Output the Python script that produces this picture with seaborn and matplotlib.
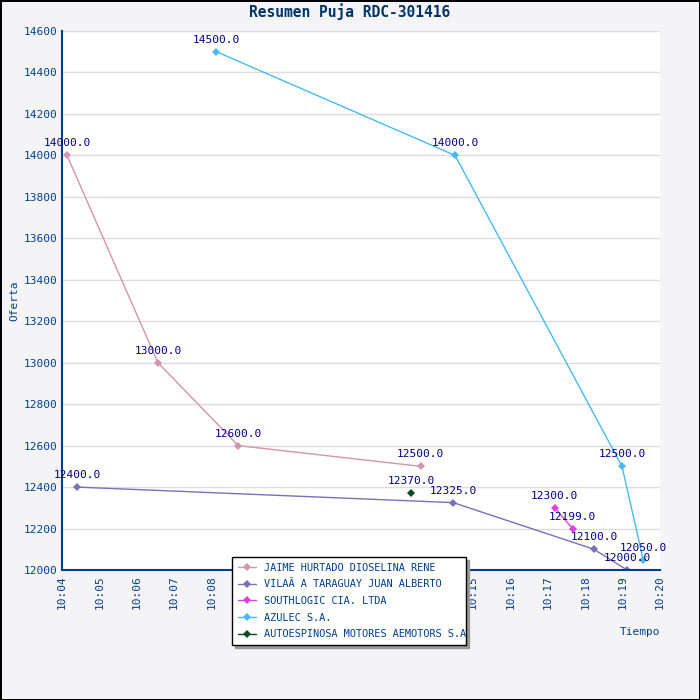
import pandas as pd
import seaborn as sns
import matplotlib.pyplot as plt
import matplotlib.dates as mdates

sns.set_style("white")
plt.rcParams['font.family'] = ['DejaVu Sans Mono', 'DejaVu Sans']

# bids
jaime_t = ["10:04:08", "10:06:34", "10:08:43", "10:13:36"]
jaime_v = [14000.0, 13000.0, 12600.0, 12500.0]
vila_t = ["10:04:24", "10:14:28", "10:18:14", "10:19:07"]
vila_v = [12400.0, 12325.0, 12100.0, 12000.0]
south_t = ["10:17:11", "10:17:40"]
south_v = [12300.0, 12199.0]
azulec_t = ["10:08:08", "10:14:31", "10:18:59", "10:19:33"]
azulec_v = [14500.0, 14000.0, 12500.0, 12050.0]
auto_t = ["10:13:20"]
auto_v = [12370.0]

names = ["JAIME HURTADO DIOSELINA RENE", "VILAÃ A TARAGUAY JUAN ALBERTO",
         "SOUTHLOGIC CIA. LTDA", "AZULEC S.A.", "AUTOESPINOSA MOTORES AEMOTORS S.A"]
colors = ["#d494ac", "#7a70b8", "#e040e0", "#44bcf0", "#0a4a26"]
series = [(jaime_t, jaime_v), (vila_t, vila_v), (south_t, south_v),
          (azulec_t, azulec_v), (auto_t, auto_v)]

rows = []
for n, (ts, vs) in zip(names, series):
    for t, v in zip(ts, vs):
        rows.append({"postor": n, "tiempo": pd.Timestamp("2020-01-01 " + t), "oferta": v})
df = pd.DataFrame(rows)

navy = "#003f8a"
fig = plt.figure(figsize=(7, 7), dpi=100, facecolor="#f4f4f6",
                 edgecolor="black", linewidth=2)
ax = fig.add_axes([62 / 700, 1 - 570 / 700, 598 / 700, 539 / 700])
ax.set_facecolor("white")

sns.lineplot(data=df, x="tiempo", y="oferta", hue="postor", hue_order=names,
             palette=colors, marker="D", markersize=4, markeredgewidth=0,
             linewidth=1, estimator=None, ax=ax, legend=True)

for _, r in df.iterrows():
    ax.annotate(f"{r['oferta']:.1f}", (mdates.date2num(r["tiempo"]), r["oferta"]),
                xytext=(0, 5), textcoords="offset points", ha="center", va="bottom",
                fontsize=8, color="#000080")

ax.set_xlim(pd.Timestamp("2020-01-01 10:04"), pd.Timestamp("2020-01-01 10:20"))
ax.set_ylim(12000, 14600)
ax.set_yticks(range(12000, 14601, 200))
ax.yaxis.set_minor_locator(plt.MultipleLocator(100))
ax.xaxis.set_major_locator(mdates.MinuteLocator(interval=1))
ax.xaxis.set_minor_locator(mdates.SecondLocator(bysecond=[15, 30, 45]))
ax.xaxis.set_major_formatter(mdates.DateFormatter("%H:%M"))
plt.setp(ax.get_xticklabels(), rotation=90)

ax.grid(axis="y", color="#dcdcdc", linewidth=1)
ax.grid(axis="x", visible=False)
ax.tick_params(which="both", direction="in", colors=navy, labelsize=8)
ax.tick_params(which="major", length=6, width=1.2)
ax.tick_params(which="minor", length=3, width=1.2)
for s in ["top", "right"]:
    ax.spines[s].set_visible(False)
for s in ["left", "bottom"]:
    ax.spines[s].set_color(navy)
    ax.spines[s].set_linewidth(1.5)

ax.set_xlabel("")
ax.set_ylabel("Oferta", fontsize=8, color=navy)
ax.yaxis.set_label_coords(-0.072, 0.5)
fig.text(660 / 700, 1 - 632 / 700, "Tiempo", ha="right", va="center",
         fontsize=8, color=navy)
fig.text(0.5, 1 - 12 / 700, "Resumen Puja RDC-301416", ha="center", va="center",
         fontsize=10.5, fontweight="bold", color="#003366")

handles, labels = ax.get_legend_handles_labels()
ax.legend(handles, labels, loc="lower left",
          bbox_to_anchor=(232 / 700, 1 - 645 / 700, 234 / 700, 85 / 700),
          bbox_transform=fig.transFigure, mode="expand", frameon=True,
          fancybox=False, shadow={"color": "#999999", "alpha": 1},
          edgecolor="black", framealpha=1, fontsize=7.4, labelcolor=navy,
          borderaxespad=0, borderpad=0.55, handlelength=1.8, handletextpad=0.8,
          labelspacing=0.65)
ax.get_legend().get_frame().set_linewidth(1)

fig.savefig("out.png", dpi=100)
